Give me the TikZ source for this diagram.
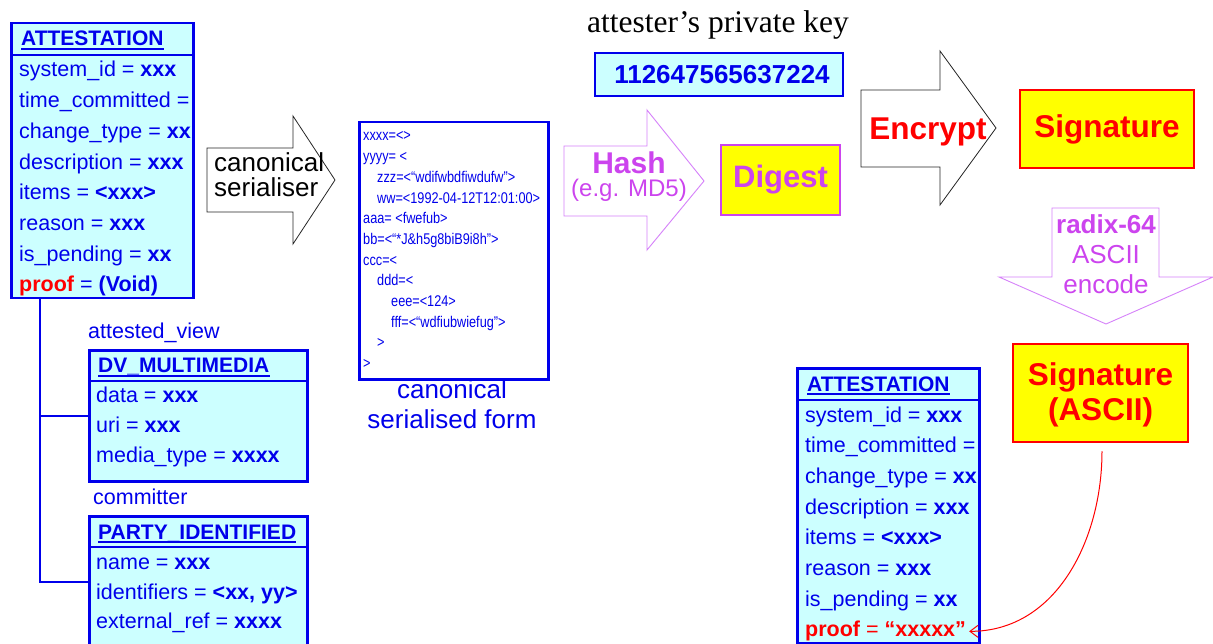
\documentclass[tikz,border=0pt]{standalone}
\usepackage{fontspec}
\setmainfont{Liberation Sans}[Ligatures={TeX,NoCommon}]
\newfontfamily\timesfont{Liberation Serif}
\newfontfamily\narrowfont{Liberation Sans}[FakeStretch=0.82,Ligatures=NoCommon]
\usetikzlibrary{arrows.meta}
\definecolor{uBlue}{RGB}{0,0,235}
\definecolor{uCyan}{RGB}{204,255,255}
\definecolor{uYellow}{RGB}{255,255,0}
\definecolor{uRed}{RGB}{255,0,0}
\definecolor{uMag}{RGB}{204,68,238}
\definecolor{uMagLine}{RGB}{214,130,250}
\newcommand{\fsz}[1]{\fontsize{#1}{#1}\selectfont}
\tikzset{
  row/.style={anchor=base west, inner sep=0pt, text=uBlue, font=\fsz{21.5}},
  hdr/.style={anchor=base west, inner sep=0pt, text=uBlue, font=\fsz{21}\bfseries},
  classbox/.style={draw=uBlue, fill=uCyan, line width=2.5pt, inner sep=0pt},
  sepline/.style={draw=uBlue, line width=2.2pt},
  uline/.style={draw=uBlue, line width=1.6pt},
  ser/.style={anchor=base west, inner sep=0pt, text=uBlue, font=\narrowfont\fsz{15.5}},
  blockarrow/.style={draw=black!85, line width=0.8pt, fill=white},
  magarrow/.style={draw=uMagLine, line width=0.9pt, fill=white},
  link/.style={draw=uBlue, line width=2.5pt},
  yellowbox/.style={fill=uYellow, line width=2.5pt, inner sep=0pt},
}
\newcommand{\attestbox}[2]{%
  \node[classbox, anchor=north west, minimum width=182, minimum height=275] (#1box) at (10,22) {};
  \draw[sepline] (10,55) -- (192,55);
  \begin{scope}
    \clip (11.3,23.3) rectangle (190.7,295.7);
    \node[hdr] (#1hdr) at (21,46) {ATTESTATION};
    \draw[uline] ([yshift=-3pt]#1hdr.base west) -- ([yshift=-3pt]#1hdr.base east);
    \node[row] (#1r1) at (19,77) {system\_id = \textbf{xxx}};
    \node[row] (#1r2) at (19,107.7) {time\_committed = \textbf{xxx}};
    \node[row] (#1r3) at (19,138.4) {change\_type = \textbf{xxx}};
    \node[row] (#1r4) at (19,169.1) {description = \textbf{xxx}};
    \node[row] (#1r5) at (19,199.8) {items = \textbf{<xxx>}};
    \node[row] (#1r6) at (19,230.5) {reason = \textbf{xxx}};
    \node[row] (#1r7) at (19,261.2) {is\_pending = \textbf{xx}};
    \node[row] (#1proof) at (19,291.9) {#2};
  \end{scope}
}
\begin{document}
\begin{tikzpicture}[x=1pt,y=-1pt]
\clip (0,0) rectangle (1213,644);
\fill[white] (0,0) rectangle (1213,644);

% ---------- left ATTESTATION ----------
\attestbox{L}{\textcolor{uRed}{\textbf{proof}} = \textbf{(Void)}}

% ---------- DV_MULTIMEDIA ----------
\node[row] (avl) at (88,338) {attested\_view};
\node[classbox, anchor=north west, minimum width=218, minimum height=131] (dv) at (88,349) {};
\draw[sepline] (88,381) -- (306,381);
\begin{scope}
  \clip (89.3,350.3) rectangle (304.7,478.7);
  \node[hdr] (dvh) at (98,373) {DV\_MULTIMEDIA};
  \draw[uline] ([yshift=-3pt]dvh.base west) -- ([yshift=-3pt]dvh.base east);
  \node[row] (dv1) at (96,402) {data = \textbf{xxx}};
  \node[row] (dv2) at (96,432) {uri = \textbf{xxx}};
  \node[row] (dv3) at (96,462) {media\_type = \textbf{xxxx}};
\end{scope}

% ---------- PARTY_IDENTIFIED ----------
\node[row] (cml) at (93,504) {committer};
\node[classbox, anchor=north west, minimum width=218, minimum height=150] (pi) at (88,515) {};
\draw[sepline] (88,547) -- (306,547);
\begin{scope}
  \clip (89.3,516.3) rectangle (304.7,660);
  \node[hdr] (pih) at (98,539) {PARTY\_IDENTIFIED};
  \draw[uline] ([yshift=-3pt]pih.base west) -- ([yshift=-3pt]pih.base east);
  \node[row] (pi1) at (96,569) {name = \textbf{xxx}};
  \node[row] (pi2) at (96,599) {identifiers = \textbf{<xx, yy>}};
  \node[row] (pi3) at (96,628) {external\_ref = \textbf{xxxx}};
\end{scope}

% links
\draw[link] ([xshift=30pt]Lbox.south west) |- (dv.west);
\draw[link] ([xshift=30pt]Lbox.south west) |- ([yshift=-67pt]pi.north west);

% ---------- canonical serialiser arrow ----------
\draw[blockarrow] (207,148) -- (293,148) -- (293,116) -- (335,180) -- (293,244) -- (293,212) -- (207,212) -- cycle;
\node[anchor=base west, align=left, inner sep=0pt, font=\fontsize{26}{25}\selectfont] (canon) at (214,197) {canonical\\serialiser};

% ---------- serialised form ----------
\node[draw=uBlue, fill=white, line width=2.5pt, anchor=north west, minimum width=189, minimum height=257] (serbox) at (358,121) {};
\node[ser] (s1) at (363,141) {xxxx=<>};
\node[ser] (s2) at (363,161.7) {yyyy= <};
\node[ser] (s3) at (377,182.4) {zzz=<“wdifwbdfiwdufw”>};
\node[ser] (s4) at (377,203.1) {ww=<1992-04-12T12:01:00>};
\node[ser] (s5) at (363,223.8) {aaa= <fwefub>};
\node[ser] (s6) at (363,244.5) {bb=<“*J\&h5g8biB9i8h”>};
\node[ser] (s7) at (363,265.2) {ccc=<};
\node[ser] (s8) at (377,285.9) {ddd=<};
\node[ser] (s9) at (391,306.6) {eee=<124>};
\node[ser] (s10) at (391,327.3) {fff=<“wdfiubwiefug”>};
\node[ser] (s11) at (377,348) {>};
\node[ser] (s12) at (363,368.7) {>};
\node[anchor=base, align=center, inner sep=0pt, text=uBlue, font=\fontsize{26}{30}\selectfont] (sercap) at (452,428) {canonical\\serialised form};

% ---------- private key ----------
\node[anchor=base, inner sep=0pt, font=\timesfont\fsz{31.5}] (keylbl) at (718,33) {attester’s private key};
\node[classbox, minimum width=248, minimum height=43, text=uBlue, font=\fsz{26}\bfseries] (key) at (719,74.5) {\hspace{6pt}112647565637224};

% ---------- Hash arrow ----------
\draw[magarrow] (564,146) -- (647,146) -- (647,110) -- (704,181) -- (647,250) -- (647,216) -- (564,216) -- cycle;
\node[anchor=base, align=center, inner sep=0pt, text=uMag, font=\fontsize{24}{23}\selectfont] (hash) at (629,197) {{\fsz{30}\bfseries Hash}\\(e.g. MD5)};

% ---------- Digest ----------
\node[yellowbox, draw=uMag, minimum width=119, minimum height=70, text=uMag, font=\fsz{31}\bfseries] (digest) at (780.5,180) {Digest};

% ---------- Encrypt arrow ----------
\draw[blockarrow] (861,90) -- (940,90) -- (940,51) -- (996,128) -- (940,205) -- (940,167) -- (861,167) -- cycle;
\node[anchor=base, inner sep=0pt, text=uRed, font=\fsz{31.5}\bfseries] (encrypt) at (928,140) {Encrypt};

% ---------- Signature ----------
\node[yellowbox, draw=uRed, minimum width=174, minimum height=78, text=uRed, font=\fsz{31.5}\bfseries] (sig) at (1107,129) {Signature};

% ---------- radix-64 arrow ----------
\draw[magarrow] (1052,208) -- (1159,208) -- (1159,277) -- (1213,277) -- (1106,324) -- (999,277) -- (1052,277) -- cycle;
\node[anchor=base, align=center, inner sep=0pt, text=uMag, font=\fontsize{26}{30}\selectfont] (radix) at (1106,294) {\textbf{radix-64}\\ASCII\\encode};

% ---------- Signature (ASCII) ----------
\node[yellowbox, draw=uRed, minimum width=175, minimum height=98] (sigascii) at (1100.5,393) {};
\node[anchor=base, align=center, inner sep=0pt, text=uRed, font=\fontsize{31.5}{35}\selectfont\bfseries] (sigatext) at (1100.5,420) {Signature\\(ASCII)};

% ---------- right ATTESTATION ----------
\begin{scope}[shift={(786,345)}]
  \attestbox{R}{\textcolor{uRed}{\textbf{proof} = \textbf{“xxxxx”}}}
\end{scope}

% red connector
\draw[uRed, line width=1pt, -{Straight Barb[length=8pt, width=12pt]}] ([xshift=1.5pt, yshift=-8pt]sigascii.south) to[out=-90, in=0] ([xshift=3pt]Rproof.east);
\end{tikzpicture}
\end{document}
